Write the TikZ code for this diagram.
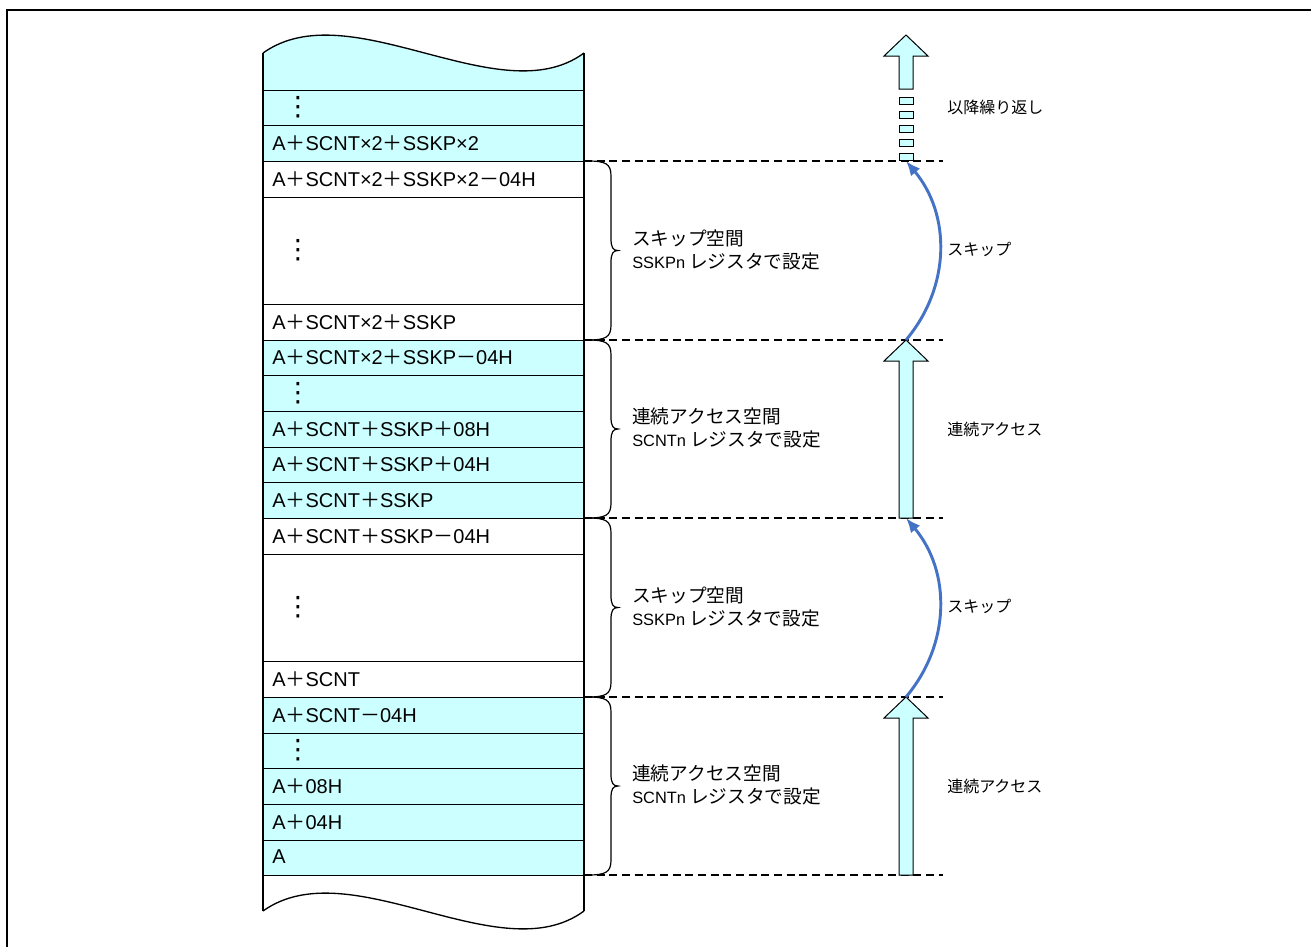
\documentclass[tikz,border=0pt]{standalone}
\usepackage{fontspec}
\setmainfont{Liberation Sans}
\newfontfamily\jp{Noto Sans CJK JP}
\newfontfamily\dvs{DejaVu Sans}
\usetikzlibrary{arrows.meta}
\definecolor{memcyan}{HTML}{CCFFFF}
\definecolor{skipblue}{HTML}{4472C4}
\newcommand{\zplus}{{\jp ＋}}
\newcommand{\zminus}{{\jp －}}
\newcommand{\latn}[1]{{\normalfont\fontsize{12.3}{17.25}\selectfont #1}}
% right brace between two row borders
\newcommand{\membrace}[2]{%
  \draw[line width=0.9pt] (588,#1) .. controls (606,#1) and (611,#1+3) .. (611,#1+15)
    -- (611,{(#1+#2)/2-12}) .. controls (611,{(#1+#2)/2-3}) and (613,{(#1+#2)/2}) .. (618,{(#1+#2)/2})
    .. controls (613,{(#1+#2)/2}) and (611,{(#1+#2)/2+3}) .. (611,{(#1+#2)/2+12})
    -- (611,#2-15) .. controls (611,#2-3) and (606,#2) .. (588,#2);}
% up block arrow: tip, foot
\newcommand{\blockup}[2]{%
  \draw[blockarrow] (906,#1) -- (928,#1+21) -- (913,#1+21) -- (913,#2) -- (899,#2)
    -- (899,#1+21) -- (884,#1+21) -- cycle;}

\begin{document}
\begin{tikzpicture}[x=0.75pt,y=-0.75pt,
    memcell/.style={draw=black, line width=0.75pt},
    addr/.style={anchor=west, inner sep=0pt, font=\fontsize{15}{17}\selectfont},
    vdotsnode/.style={anchor=center, inner sep=0pt, font=\fontsize{20}{20}\selectfont\dvs},
    gapline/.style={line width=1.5pt, dash pattern=on 6pt off 3.5pt},
    bracetext/.style={anchor=west, align=left, inner sep=0pt, font=\fontsize{14}{17.25}\selectfont\jp},
    notelabel/.style={anchor=west, inner sep=0pt, font=\fontsize{12}{14}\selectfont\jp},
    blockarrow/.style={draw=black, fill=memcyan, line width=0.75pt, line join=miter},
    skiparrow/.style={-{Latex[length=11pt,width=9pt]}, line width=2.2pt, draw=skipblue}
]
    \useasboundingbox (0,0) rectangle (1311,947);
    \draw[line width=1.5pt] (7,947) -- (7,10) -- (1311,10);

    % memory column
    \fill[memcyan] (263,90) -- (263,53) .. controls (350,-9) and (500,115) .. (584,53) -- (584,90) -- cycle;
    \draw[line width=1pt] (263,53) .. controls (350,-9) and (500,115) .. (584,53);
    \foreach \ya/\yb/\c in {90/125/memcyan, 125/161/memcyan, 161/197/white, 197/304/white,
        304/340/white, 340/375/memcyan, 375/411/memcyan, 411/447/memcyan, 447/482/memcyan,
        482/518/memcyan, 518/554/white, 554/661/white, 661/697/white, 697/733/memcyan,
        733/768/memcyan, 768/804/memcyan, 804/840/memcyan, 840/875/memcyan}
        \draw[memcell, fill=\c] (263,\ya) rectangle (584,\yb);
    \draw[line width=1pt] (263,911) .. controls (350,849) and (500,973) .. (584,911);
    \draw[line width=1.5pt] (263,53) -- (263,911);
    \draw[line width=1.5pt] (584,53) -- (584,911);

    \node[vdotsnode] (dots1) at (298,107) {⋮};
    \node[addr] (r1) at (272,143) {A\zplus SCNT×2\zplus SSKP×2};
    \node[addr] (r2) at (272,179) {A\zplus SCNT×2\zplus SSKP×2\zminus 04H};
    \node[vdotsnode] (dots2) at (298,250) {⋮};
    \node[addr] (r3) at (272,322) {A\zplus SCNT×2\zplus SSKP};
    \node[addr] (r4) at (272,357) {A\zplus SCNT×2\zplus SSKP\zminus 04H};
    \node[vdotsnode] (dots3) at (298,393) {⋮};
    \node[addr] (r5) at (272,429) {A\zplus SCNT\zplus SSKP\zplus 08H};
    \node[addr] (r6) at (272,464) {A\zplus SCNT\zplus SSKP\zplus 04H};
    \node[addr] (r7) at (272,500) {A\zplus SCNT\zplus SSKP};
    \node[addr] (r8) at (272,536) {A\zplus SCNT\zplus SSKP\zminus 04H};
    \node[vdotsnode] (dots4) at (298,607) {⋮};
    \node[addr] (r9) at (272,679) {A\zplus SCNT};
    \node[addr] (r10) at (272,715) {A\zplus SCNT\zminus 04H};
    \node[vdotsnode] (dots5) at (298,750) {⋮};
    \node[addr] (r11) at (272,786) {A\zplus 08H};
    \node[addr] (r12) at (272,822) {A\zplus 04H};
    \node[addr] (r13) at (272,857) {A};

    % borders and braces
    \foreach \y in {161,340,518,697,875}
        \draw[gapline] (584,\y) -- (943,\y);
    \membrace{161}{340}
    \membrace{340}{518}
    \membrace{518}{697}
    \membrace{697}{875}
    \node[bracetext] (sp1) at (632,250) {スキップ空間\\\latn{SSKPn} レジスタで設定};
    \node[bracetext] (ac1) at (632,428) {連続アクセス空間\\\latn{SCNTn} レジスタで設定};
    \node[bracetext] (sp0) at (632,607) {スキップ空間\\\latn{SSKPn} レジスタで設定};
    \node[bracetext] (ac0) at (632,785) {連続アクセス空間\\\latn{SCNTn} レジスタで設定};

    % access arrows
    \blockup{35}{89}
    \foreach \y in {97,111,125,139,153}
        \draw[blockarrow] (899,\y) rectangle (913,\y+7);
    \blockup{340}{518}
    \blockup{697}{875}
    \coordinate (rep) at (906,161);
    \coordinate (seq1tip) at (906,340);
    \coordinate (seq1foot) at (906,518);
    \coordinate (seq0tip) at (906,697);
    \draw[skiparrow] (seq1tip) to[bend right=40] (rep);
    \draw[skiparrow] (seq0tip) to[bend right=40] (seq1foot);

    \node[notelabel] (again) at (947,107) {以降繰り返し};
    \node[notelabel] (skip1) at (947,249) {スキップ};
    \node[notelabel] (seq1) at (947,429) {連続アクセス};
    \node[notelabel] (skip0) at (947,606) {スキップ};
    \node[notelabel] (seq0) at (947,786) {連続アクセス};
\end{tikzpicture}
\end{document}
